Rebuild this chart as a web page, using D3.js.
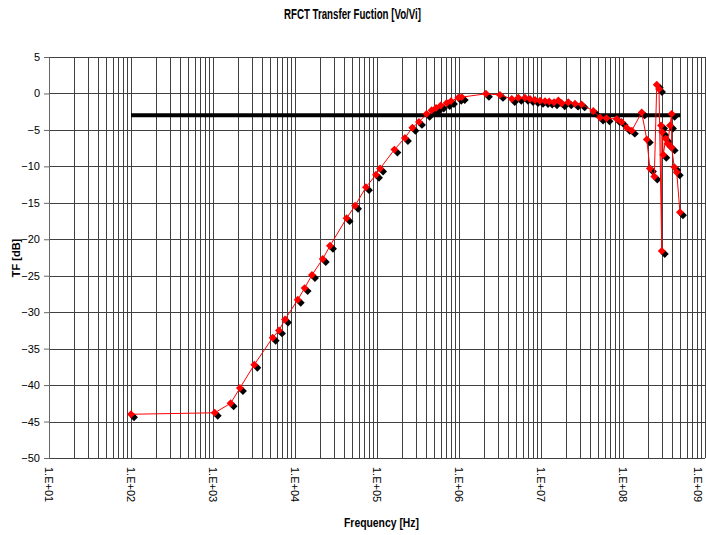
<!DOCTYPE html>
<html>
<head>
<meta charset="utf-8">
<script src="https://cdn.jsdelivr.net/npm/d3@7"></script>
<style>
  html, body { margin: 0; padding: 0; background: #fff; }
  svg { display: block; }
</style>
</head>
<body>
<div id="container"></div>
<script>
// RFCT transfer function, log frequency axis

// ---------------------------------------------------------------------------
// Data
// ---------------------------------------------------------------------------
const freqHz = [
  1.0e2, 1.05e3, 1.64e3, 2.13e3, 3.19e3, 5.34e3, 6.38e3, 7.55e3,
  1.08e4, 1.31e4, 1.61e4, 2.18e4, 2.67e4, 4.26e4, 5.4e4, 7.34e4, 9.72e4,
  1.09e5, 1.63e5, 2.19e5, 2.7e5, 3.25e5, 4.03e5, 4.64e5, 5.25e5, 5.99e5, 7.08e5, 7.98e5, 9.8e5,
  1.08e6, 2.13e6, 3.16e6, 4.4e6, 5.29e6, 6.38e6, 7.35e6, 8.45e6, 9.73e6,
  1.12e7, 1.26e7, 1.44e7, 1.63e7, 1.79e7, 2.15e7, 2.6e7, 3.13e7, 4.34e7, 5.25e7, 6.3e7, 8.37e7, 9.6e7,
  1.11e8, 1.28e8, 1.69e8, 1.95e8, 2.13e8, 2.41e8, 2.58e8, 2.75e8, 2.97e8, 2.91e8, 3.01e8,
  3.10e8, 3.31e8, 3.51e8, 3.74e8, 3.92e8, 3.92e8, 4.22e8, 4.52e8, 4.95e8
];
const tfDb = [
  -44.0, -43.8, -42.5, -40.4, -37.2, -33.5, -32.5, -31.0,
  -28.3, -26.7, -24.9, -22.7, -20.9, -17.1, -15.4, -12.85, -11.15,
  -10.3, -7.7, -6.1, -4.7, -3.9, -2.8, -2.3, -2.0, -1.65, -1.3, -1.05, -0.6,
  -0.5, -0.05, -0.2, -0.75, -0.6, -0.6, -0.75, -0.9, -1.0,
  -1.05, -1.1, -1.2, -0.95, -1.35, -1.2, -1.4, -1.5, -2.4, -3.3, -3.4, -3.5, -3.9,
  -4.7, -5.1, -2.6, -6.3, -10.3, -11.4, 1.2, 0.6, -21.6, -4.4, -5.3,
  -8.4, -6.2, -6.9, -4.4, -2.8, -7.4, -10.1, -10.8, -16.3
];

// -3 dB reference line
const refLineHz = [1e2, 5e8];
const refLineDb = -3;

const yTicks = [5, 0, -5, -10, -15, -20, -25, -30, -35, -40, -45, -50];
const decades = [1e1, 1e2, 1e3, 1e4, 1e5, 1e6, 1e7, 1e8, 1e9];
const xTickLabels = ['1.E+01', '1.E+02', '1.E+03', '1.E+04', '1.E+05', '1.E+06', '1.E+07', '1.E+08', '1.E+09'];

// ---------------------------------------------------------------------------
// Layout
// ---------------------------------------------------------------------------
const W = 706, H = 535;
const plot = { left: 49, right: 705, top: 57, bottom: 458 };
const font = 'Liberation Sans, Arial, sans-serif';

const x = d3.scaleLog().domain([1e1, 1e9]).range([plot.left, plot.right]);
const y = d3.scaleLinear().domain([-50, 5]).range([plot.bottom, plot.top]);

const svg = d3.select('#container').append('svg')
  .attr('width', W).attr('height', H);

// ── Grid ────────────────────────────────────────────────────────────────
const minorX = [];
decades.slice(0, -1).forEach(d => { for (let k = 1; k <= 9; k++) minorX.push(d * k); });
minorX.push(1e9);

const grid = svg.append('g').attr('shape-rendering', 'crispEdges');
grid.selectAll('line.v').data(minorX).join('line')
  .attr('class', 'v')
  .attr('x1', d => Math.round(x(d)) + 0.5).attr('x2', d => Math.round(x(d)) + 0.5)
  .attr('y1', plot.top).attr('y2', plot.bottom)
  .attr('stroke', '#404040').attr('stroke-width', 1);
grid.selectAll('line.h').data(yTicks).join('line')
  .attr('class', 'h')
  .attr('x1', plot.left).attr('x2', plot.right)
  .attr('y1', d => Math.round(y(d)) + 0.5).attr('y2', d => Math.round(y(d)) + 0.5)
  .attr('stroke', '#404040').attr('stroke-width', 1);

// ── Y axis ──────────────────────────────────────────────────────────────
const yAxis = svg.append('g')
  .attr('transform', `translate(${plot.left},0)`)
  .call(d3.axisLeft(y).tickValues(yTicks).tickSize(5).tickPadding(4).tickFormat(d3.format('d')));
yAxis.select('.domain').attr('stroke', '#666');
yAxis.selectAll('.tick line').attr('stroke', '#666');
yAxis.selectAll('text').attr('font-family', font).attr('font-size', 11).attr('fill', '#000');

// ── X tick labels (rotated; last one nudged in so it stays on the page) ──
svg.append('g').selectAll('text').data(decades).join('text')
  .attr('transform', d => `translate(${Math.min(x(d), 698)},${plot.bottom + 9}) rotate(90)`)
  .attr('dy', '0.35em')
  .attr('font-family', font).attr('font-size', 11).attr('fill', '#000')
  .text((d, i) => xTickLabels[i]);

// ── Reference line ──────────────────────────────────────────────────────
svg.append('line')
  .attr('x1', x(refLineHz[0])).attr('x2', x(refLineHz[1]))
  .attr('y1', y(refLineDb)).attr('y2', y(refLineDb))
  .attr('stroke', '#000').attr('stroke-width', 4);

// ── Series ──────────────────────────────────────────────────────────────
const pts = freqHz.map((f, i) => ({ f, v: tfDb[i] }));
const diamond = d3.symbol().type(d3.symbolDiamond2).size(40);

// marker shadow
svg.append('g').selectAll('path').data(pts).join('path')
  .attr('d', diamond)
  .attr('transform', d => `translate(${x(d.f) + 3},${y(d.v) + 3})`)
  .attr('fill', '#000');

svg.append('path')
  .datum(pts)
  .attr('d', d3.line().x(d => x(d.f)).y(d => y(d.v)))
  .attr('fill', 'none').attr('stroke', '#ff0000').attr('stroke-width', 1);

svg.append('g').selectAll('path').data(pts).join('path')
  .attr('d', diamond)
  .attr('transform', d => `translate(${x(d.f)},${y(d.v)})`)
  .attr('fill', '#ff0000');

// ── Titles (condensed look via textLength) ──────────────────────────────
svg.append('text')
  .attr('x', 284).attr('y', 19)
  .attr('textLength', 137).attr('lengthAdjust', 'spacingAndGlyphs')
  .attr('font-family', font).attr('font-weight', 'bold').attr('font-size', 14)
  .text('RFCT Transfer Fuction [Vo/Vi]');

svg.append('text')
  .attr('x', 344).attr('y', 527)
  .attr('textLength', 75).attr('lengthAdjust', 'spacingAndGlyphs')
  .attr('font-family', font).attr('font-weight', 'bold').attr('font-size', 12)
  .text('Frequency [Hz]');

svg.append('text')
  .attr('transform', `translate(20,258) rotate(-90)`)
  .attr('text-anchor', 'middle')
  .attr('font-family', font).attr('font-weight', 'bold').attr('font-size', 11)
  .text('TF [dB]');
</script>
</body>
</html>
